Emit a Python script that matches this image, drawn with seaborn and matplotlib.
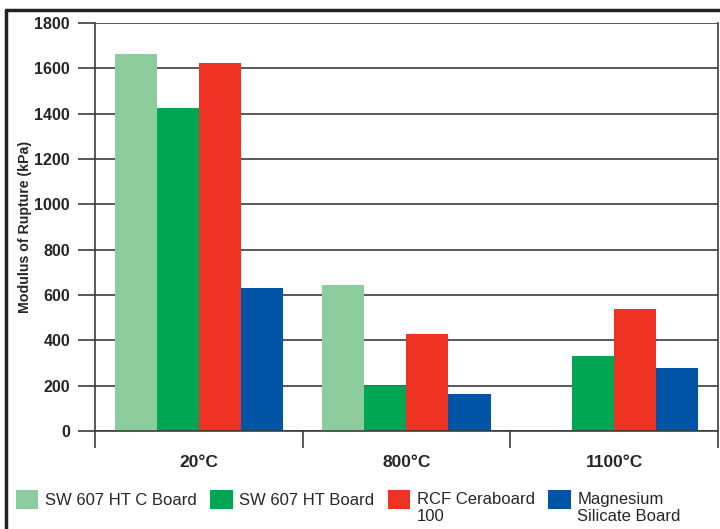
import numpy as np
import pandas as pd
import matplotlib
matplotlib.use("Agg")
import matplotlib.pyplot as plt
from matplotlib.lines import Line2D
import seaborn as sns

# Chart data
temps = ["20°C", "800°C", "1100°C"]
products = ["SW 607 HT C Board", "SW 607 HT Board", "RCF Ceraboard\n100", "Magnesium\nSilicate Board"]
sw607_htc = [1663, 644, np.nan]
sw607_ht = [1425, 197, 331]
rcf_ceraboard = [1623, 428, 538]
mag_silicate = [631, 163, 278]
y_ticks = [0, 200, 400, 600, 800, 1000, 1200, 1400, 1600, 1800]
colors = ["#8dcd9d", "#00a651", "#ee3224", "#0054a6"]

# Long-form table for seaborn
rows = []
for prod, vals in zip(products, [sw607_htc, sw607_ht, rcf_ceraboard, mag_silicate]):
    for t, v in zip(temps, vals):
        rows.append({"temp": t, "product": prod, "value": v})
df = pd.DataFrame(rows)

sns.set_style("white")
plt.rcParams["font.family"] = ["Liberation Sans", "DejaVu Sans"]

fig = plt.figure(figsize=(7.2, 5.29), dpi=100)
ax = fig.add_axes([0.132, 0.185, 0.865, 0.7715])

sns.barplot(data=df, x="temp", y="value", hue="product", hue_order=products,
            order=temps, palette=colors, width=0.81, saturation=1,
            errorbar=None, linewidth=0, ax=ax)

# axes styling
ax.set_ylim(0, 1800)
ax.set_xlim(-0.5, 2.5)
ax.set_yticks(y_ticks)
ax.set_yticklabels([str(v) for v in y_ticks], fontweight="bold", fontsize=11.5)
ax.yaxis.grid(True, color="#3c3c3c", linewidth=1.2)
ax.set_axisbelow(True)
ax.tick_params(axis="y", length=12, width=1.2, color="#3c3c3c", pad=6, left=True)

ax.set_xticks([0, 1, 2])
ax.set_xticklabels(temps, fontweight="bold", fontsize=12.5)
ax.set_xticks([-0.5, 0.5, 1.5, 2.5], minor=True)
ax.tick_params(axis="x", which="major", length=0, pad=17)
ax.tick_params(axis="x", which="minor", length=12, width=1.2, color="#3c3c3c", bottom=True)
ax.set_xlabel("")
ax.set_ylabel("Modulus of Rupture (kPa)", fontweight="bold", fontsize=10.2, labelpad=2)

ax.spines["top"].set_visible(False)
for s in ["left", "bottom", "right"]:
    ax.spines[s].set_color("#3c3c3c")
    ax.spines[s].set_linewidth(1.2)

# legend at bottom
handles, labels = ax.get_legend_handles_labels()
if ax.get_legend() is not None:
    ax.get_legend().remove()
leg = fig.legend(handles, labels, loc="upper left", bbox_to_anchor=(0.022, 0.087),
                 ncol=4, frameon=False, fontsize=12, handlelength=1.35, handleheight=1.35,
                 handletextpad=0.4, columnspacing=0.8, borderaxespad=0, borderpad=0)
# two-line labels start level with their swatch
for txt in leg.get_texts():
    if "\n" in txt.get_text():
        txt.set_y(-9)

# figure border (left and top)
fig.add_artist(Line2D([0.008, 0.008], [0, 0.981], transform=fig.transFigure,
                      color="#222222", linewidth=2.5))
fig.add_artist(Line2D([0.008, 1.0], [0.981, 0.981], transform=fig.transFigure,
                      color="#222222", linewidth=2.5))

fig.savefig("out.png", dpi=100)
